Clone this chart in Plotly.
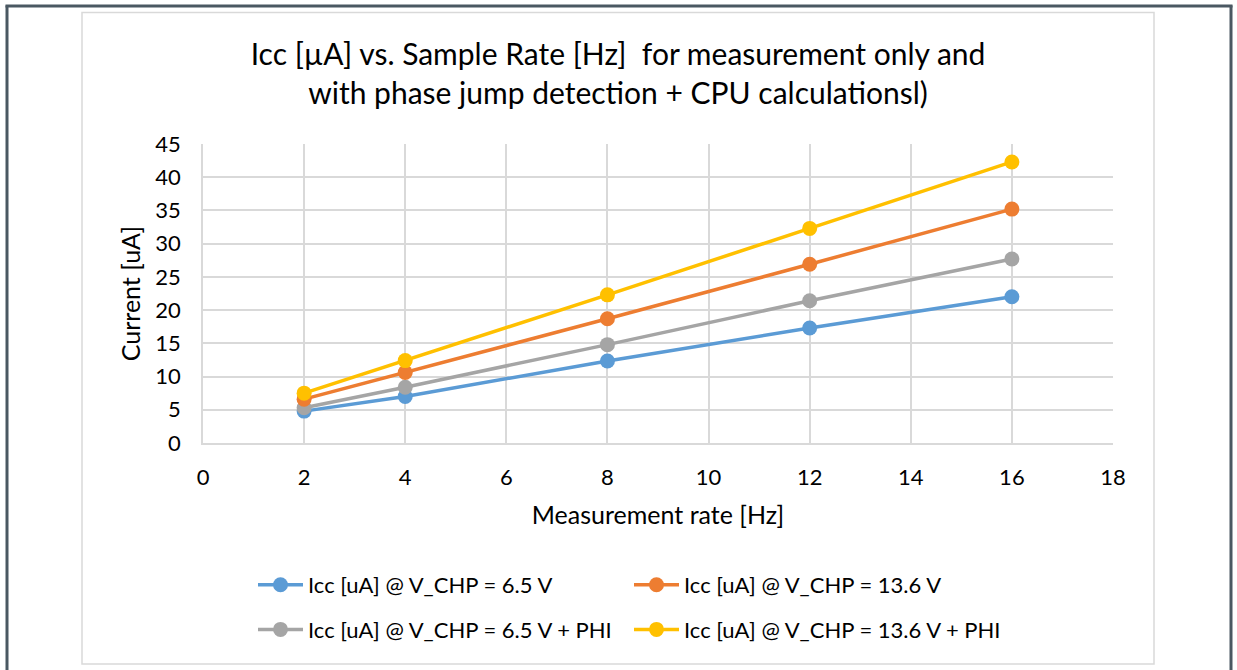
import plotly.graph_objects as go

rates = [2, 4, 8, 12, 16]
icc_65 = [4.8, 7.0, 12.35, 17.3, 22.0]
icc_136 = [6.6, 10.6, 18.7, 26.9, 35.2]
icc_65_phi = [5.3, 8.4, 14.8, 21.4, 27.7]
icc_136_phi = [7.5, 12.4, 22.3, 32.3, 42.3]

names = [
    "Icc [uA] @ V_CHP = 6.5 V",
    "Icc [uA] @ V_CHP = 13.6 V",
    "Icc [uA] @ V_CHP = 6.5 V + PHI",
    "Icc [uA] @ V_CHP = 13.6 V + PHI",
]
colors = ["#5b9bd5", "#ed7d31", "#a5a5a5", "#ffc000"]
series = [icc_65, icc_136, icc_65_phi, icc_136_phi]
legends = ["legend", "legend2", "legend", "legend2"]

FONT = "Lato, Carlito, Calibri, sans-serif"
W, H = 1237, 670
L, R, T, B = 203, 1113, 144, 443

fig = go.Figure()
for i in [0, 2, 1, 3]:
    fig.add_trace(go.Scatter(
        x=rates, y=series[i], name=names[i], mode="lines+markers",
        line=dict(color=colors[i], width=3.5),
        marker=dict(color=colors[i], size=15),
        legend=legends[i], legendgroup=f"g{i}", legendrank=i,
    ))

def px(x):
    return (x - L) / (R - L)

def py(y):
    return (B - y) / (B - T)

shapes = [
    dict(type="rect", xref="paper", yref="paper",
         x0=px(82), x1=px(1154), y0=py(664), y1=py(12.5),
         line=dict(color="#d9d9d9", width=1.5), layer="below"),
    dict(type="line", xref="paper", yref="paper",
         x0=px(7), x1=px(7), y0=py(5.5), y1=py(675),
         line=dict(color="#4a5862", width=3)),
    dict(type="line", xref="paper", yref="paper",
         x0=px(5.5), x1=px(1232.5), y0=py(6), y1=py(6),
         line=dict(color="#4a5862", width=3)),
    dict(type="line", xref="paper", yref="paper",
         x0=px(1231), x1=px(1231), y0=py(5.5), y1=py(675),
         line=dict(color="#4a5862", width=3)),
]

fig.update_layout(
    width=W, height=H,
    margin=dict(l=L, r=W - R, t=T, b=H - B),
    paper_bgcolor="white", plot_bgcolor="white",
    font=dict(family=FONT, color="#000000"),
    title=dict(
        text="Icc [µA] vs. Sample Rate [Hz]  for measurement only and<br>with phase jump detection + CPU calculationsl)",
        x=618 / W, xref="container", xanchor="center",
        y=1 - 65 / H, yref="container", yanchor="top",
        font=dict(size=30, family=FONT, color="#000000"),
    ),
    xaxis=dict(
        range=[0, 18], tickvals=[0, 2, 4, 6, 8, 10, 12, 14, 16, 18],
        showgrid=True, gridcolor="#d9d9d9", gridwidth=1.5,
        showline=True, linecolor="#d9d9d9", linewidth=1.5,
        zeroline=False, ticks="", ticklabelstandoff=14,
        tickfont=dict(size=22, family=FONT),
        title=dict(text="Measurement rate [Hz]", font=dict(size=25, family=FONT), standoff=17),
        fixedrange=True,
    ),
    yaxis=dict(
        range=[0, 45], tickvals=[0, 5, 10, 15, 20, 25, 30, 35, 40, 45],
        showgrid=True, gridcolor="#d9d9d9", gridwidth=1.5,
        showline=True, linecolor="#d9d9d9", linewidth=1.5,
        zeroline=False, ticks="", ticklabelstandoff=16,
        tickfont=dict(size=22, family=FONT),
        title=dict(text="Current [uA]", font=dict(size=25, family=FONT), standoff=8),
        fixedrange=True,
    ),
    legend=dict(
        x=px(253), y=py(564), xanchor="left", yanchor="top",
        orientation="v", tracegroupgap=13,
        font=dict(size=22, family=FONT), bgcolor="rgba(0,0,0,0)",
        itemwidth=45,
    ),
    legend2=dict(
        x=px(629), y=py(564), xanchor="left", yanchor="top",
        orientation="v", tracegroupgap=13,
        font=dict(size=22, family=FONT), bgcolor="rgba(0,0,0,0)",
        itemwidth=45,
    ),
    shapes=shapes,
    showlegend=True,
)

fig.write_html(
    "out.html",
    config={"displayModeBar": False},
    post_script="document.body.style.margin='0';document.body.style.padding='0';",
)
